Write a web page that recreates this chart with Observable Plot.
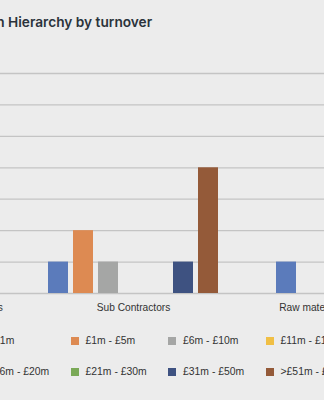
<!DOCTYPE html>
<html>
<head>
<meta charset="utf-8">
<script src="https://cdn.jsdelivr.net/npm/d3@7"></script>
<script src="https://cdn.jsdelivr.net/npm/@observablehq/plot@0.6"></script>
<style>
  html, body { margin: 0; padding: 0; background: #ececec; }
  #wrap { position: relative; width: 324px; height: 400px; overflow: hidden; background: #ececec; }
  #title { position: absolute; top: 14px; white-space: nowrap; font-family: Inter, "Open Sans", sans-serif; font-weight: 600; font-size: 13.7px; color: #2b333b; }
  #chart { position: absolute; top: 60px; left: -140px; width: 546px; height: 263px; }
  #chart svg { max-width: none !important; }
  #legend { position: absolute; top: 332px; left: -27px; display: grid; grid-template-columns: repeat(4, 97.5px); grid-auto-rows: 31px; font-family: "Liberation Sans", Arial, sans-serif; font-size: 10.4px; color: #333; }
  .item { display: flex; align-items: center; height: 17px; white-space: nowrap; }
  .sw { width: 8px; height: 8px; margin-right: 7px; flex: none; }
</style>
</head>
<body>
<div id="wrap">
  <div id="title"></div>
  <div id="chart"></div>
  <div id="legend"></div>
</div>
<script>
const titleText = "Supply Chain Hierarchy by turnover";
const categories = ["Principal Contractors", "Sub Contractors", "Raw materials"];
const bands = ["<£1m", "£1m - £5m", "£6m - £10m", "£11m - £15m", "£16m - £20m", "£21m - £30m", "£31m - £50m", ">£51m - £100m"];
const colors = ["#5b7bbb", "#dd8a52", "#a5a6a5", "#f0bf45", "#6fa0d6", "#7aa957", "#3e5281", "#945a39"];
// null = band not reported for that category (no slot); 0 = reported, empty slot
const mainValues = [null, null, null, null, null, null, null, null];
const subValues = [1, 2, 1, 0, null, 0, 1, 4];
const rawValues = [1, 0, 0, null, null, null, null, null];
const yTicks = [0, 1, 2, 3, 4, 5, 6, 7];

const valuesByCat = [mainValues, subValues, rawValues];
const maxSlots = d3.max(valuesByCat, vs => vs.filter(v => v != null).length);
const rows = [];
categories.forEach((c, i) => {
  const present = bands.map((b, j) => ({b, v: valuesByCat[i][j]})).filter(d => d.v != null);
  const offset = (maxSlots - present.length) / 2;
  present.forEach((d, k) => rows.push({category: c, band: d.b, value: d.v, slot: offset + k}));
});
const gridRows = categories.flatMap(c => yTicks.map(t => ({category: c, tick: t})));

const plot = Plot.plot({
  width: 546,
  height: 263,
  marginTop: 13,
  marginBottom: 30,
  marginLeft: 6,
  marginRight: 6,
  style: {background: "transparent", fontFamily: "'Liberation Sans', Arial, sans-serif", fontSize: "10.2px", color: "#333", maxWidth: "none"},
  fx: {domain: categories, padding: 0, label: null},
  x: {domain: d3.range(maxSlots), paddingInner: 0.186, paddingOuter: 0.043, axis: null},
  y: {domain: [0, 7], axis: null},
  color: {domain: bands, range: colors},
  marks: [
    Plot.ruleY(gridRows, {fx: "category", y: "tick", stroke: "#c4c4c4", strokeWidth: 1.3}),
    Plot.barY(rows.filter(d => d.value > 0), {fx: "category", x: "slot", y: "value", fill: "band"}),
    Plot.axisFx({anchor: "bottom", tickSize: 0, tickPadding: 10, label: null, fontSize: 10.2, fill: "#333"})
  ]
});
document.getElementById("chart").appendChild(plot);

// legend (row-wise, 4 columns)
const legend = document.getElementById("legend");
bands.forEach((b, i) => {
  const it = document.createElement("div");
  it.className = "item";
  const sw = document.createElement("span");
  sw.className = "sw";
  sw.style.background = colors[i];
  const t = document.createElement("span");
  t.textContent = b;
  it.appendChild(sw); it.appendChild(t);
  legend.appendChild(it);
});

// title, cropped at the left like the reference
const title = document.getElementById("title");
title.textContent = titleText;
const probe = document.createElement("span");
probe.style.cssText = "position:absolute;visibility:hidden;white-space:pre;font-family:Inter,'Open Sans',sans-serif;font-weight:600;font-size:13.7px";
probe.textContent = "Supply Chain ";
document.body.appendChild(probe);
title.style.left = (8 - probe.getBoundingClientRect().width) + "px";
probe.remove();
</script>
</body>
</html>
